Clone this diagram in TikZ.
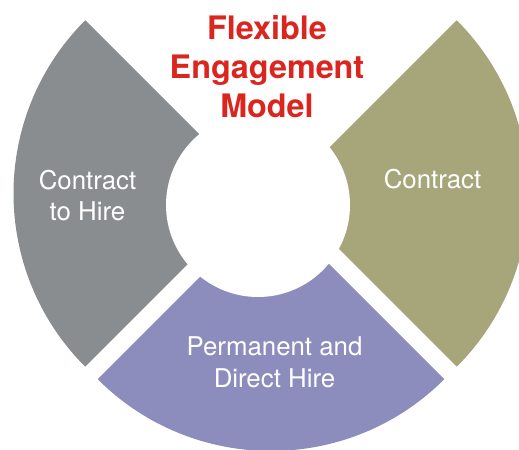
\documentclass[tikz,border=0pt]{standalone}
\usepackage{fontspec}
\setmainfont{TeX Gyre Heros}
\definecolor{hiregray}{RGB}{137,141,144}
\definecolor{contractolive}{RGB}{167,165,122}
\definecolor{permpurple}{RGB}{140,141,188}
\definecolor{titlered}{RGB}{218,38,30}
\begin{document}
\begin{tikzpicture}[
    ringtext/.style={text=white, align=center, font=\fontsize{14.7}{18}\selectfont},
    headline/.style={text=titlered, align=center, font=\fontsize{18.4}{22.4}\selectfont\bfseries}]
  \clip (0,0) rectangle (10.38,9);
  \fill[hiregray] (5.17,5.13) -- ++(135:4.9) arc (135:225:4.9) -- cycle;
  \fill[contractolive] (5.67,5.13) -- ++(-45:4.9) arc (-45:45:4.9) -- cycle;
  \fill[permpurple] (5.42,4.88) -- ++(225:4.9) arc (225:315:4.9) -- cycle;
  \fill[white] (5.16,4.90) circle (1.84);
  \node[headline] (model) at (5.34,7.67) {Flexible\\Engagement\\Model};
  \node[ringtext] (tohire) at (1.75,5.09) {Contract\\to Hire};
  \node[ringtext] (contract) at (8.65,5.41) {Contract};
  \node[ringtext] (direct) at (5.49,1.75) {Permanent and\\Direct Hire};
\end{tikzpicture}
\end{document}
